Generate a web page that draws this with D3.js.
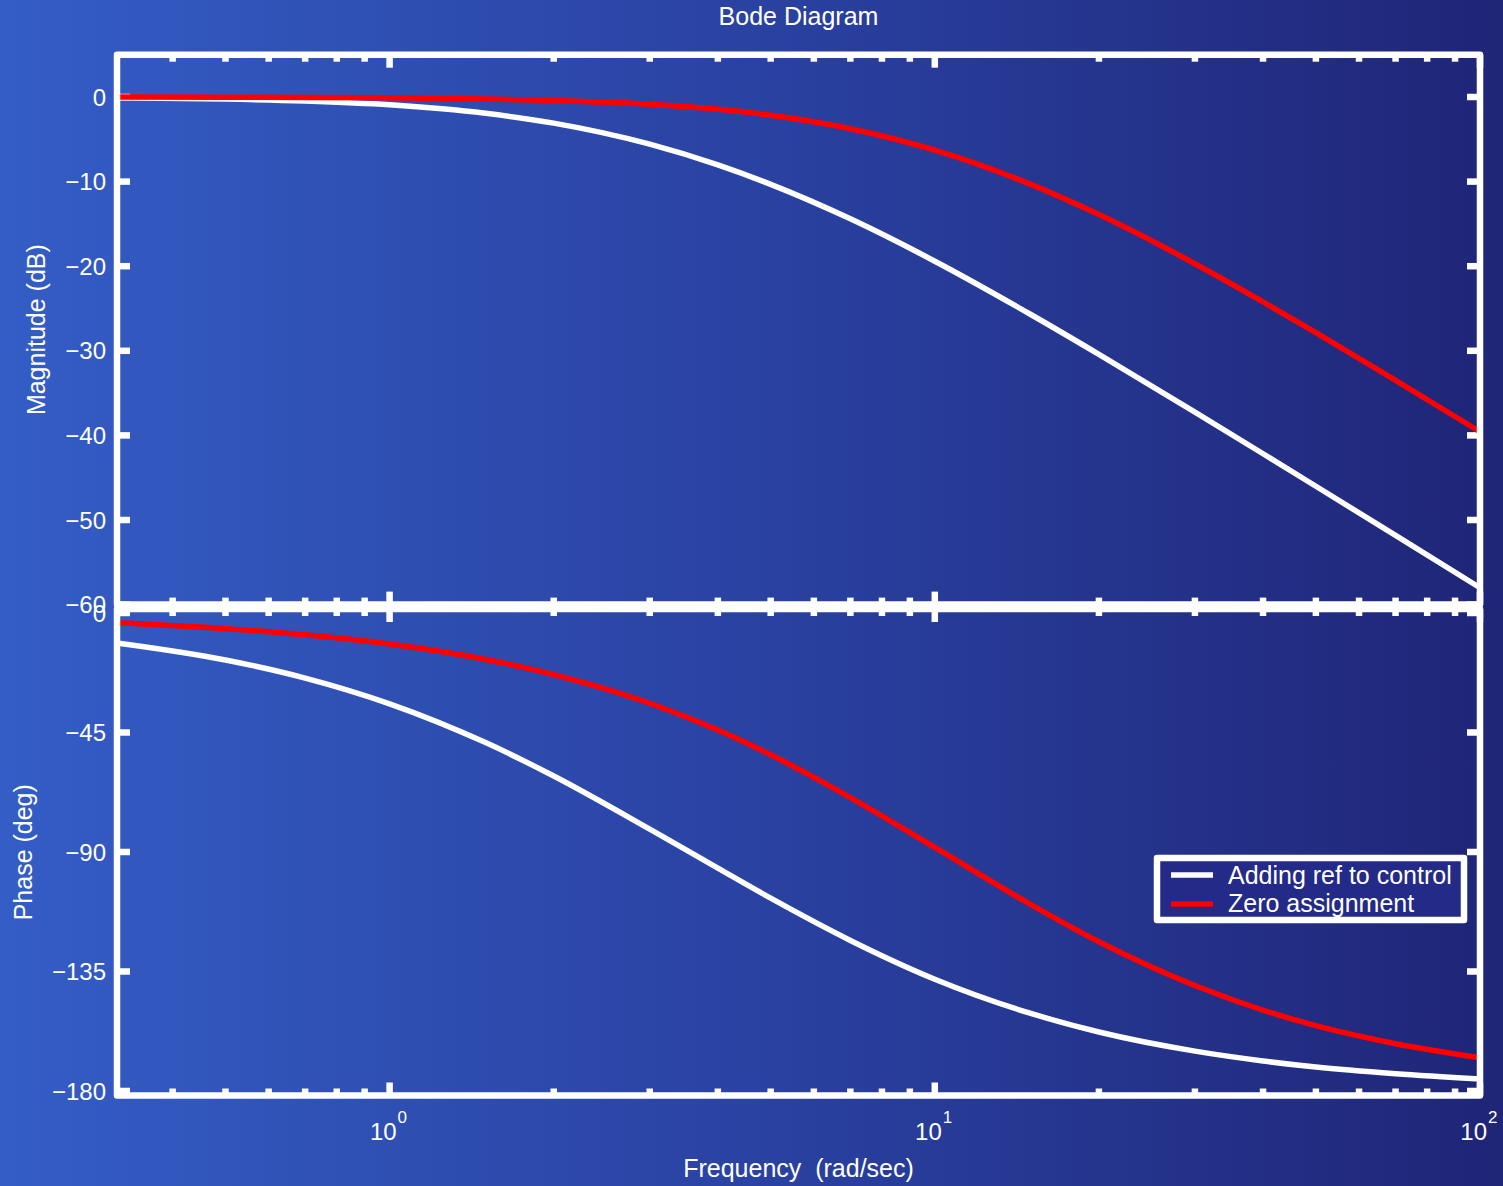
<!DOCTYPE html>
<html>
<head>
<meta charset="utf-8">
<script src="https://cdn.jsdelivr.net/npm/d3@7"></script>
<style>
  html, body { margin: 0; padding: 0; background: #2a40a0; }
  svg { display: block; font-family: "Liberation Sans", Arial, Helvetica, sans-serif; }
  text { fill: #ffffff; white-space: pre; }
</style>
</head>
<body>
<svg id="chart" width="1503" height="1186"></svg>
<script>
// ---------------- data ----------------
const freq = [0.3162, 0.5, 0.7, 1, 1.5, 2, 3, 4, 5, 7, 10, 15, 20, 30, 40, 50, 70, 100];
const magAddingRef = [-0.10, -0.25, -0.48, -0.93, -1.93, -3.09, -5.58, -8.03, -10.33, -14.40, -19.41, -25.71, -30.42, -37.25, -42.17, -46.01, -51.82, -58.01];
const phaseAddingRef = [-11.3, -17.7, -24.5, -34.2, -48.8, -61.4, -81.4, -96.1, -107.4, -123.3, -137.9, -150.8, -157.8, -165.0, -168.7, -171.0, -173.5, -175.5];
const magZeroAssign = [-0.01, -0.03, -0.05, -0.10, -0.23, -0.40, -0.86, -1.46, -2.16, -3.75, -6.28, -10.33, -13.90, -19.71, -24.22, -27.85, -33.49, -39.57];
const phaseZeroAssign = [-3.7, -5.9, -8.2, -11.7, -17.5, -23.2, -34.0, -44.1, -53.4, -69.5, -88.3, -109.8, -123.8, -140.3, -149.6, -155.4, -162.2, -167.5];

const seriesNames = ["Adding ref to control", "Zero assignment"];
const seriesColors = ["#ffffff", "#ff0000"];

const magTicks = [0, -10, -20, -30, -40, -50, -60];
const phaseTicks = [0, -45, -90, -135, -180];
const xMajorTicks = [1, 10, 100];
const xMajorExponents = ["0", "1", "2"];
const xMinorTicks = [0.4, 0.5, 0.6, 0.7, 0.8, 0.9, 2, 3, 4, 5, 6, 7, 8, 9, 20, 30, 40, 50, 60, 70, 80, 90];

const titleText = "Bode Diagram";
const magLabel = "Magnitude (dB)";
const phaseLabel = "Phase (deg)";
const freqLabel = "Frequency  (rad/sec)";

// ---------------- layout ----------------
const W = 1503, H = 1186;
const L = 117, R = 1480;
const magTop = 54.7, magBot = 604.6;
const phTop = 609, phBot = 1095.5;
const frameW = 6.5, curveW = 5.5;
const majorLen = 13, minorLen = 7;

const svg = d3.select("#chart");

// background gradient
const defs = svg.append("defs");
const grad = defs.append("linearGradient").attr("id", "bg").attr("x1", "0%").attr("x2", "100%").attr("y1", "0%").attr("y2", "0%");
grad.append("stop").attr("offset", "0%").attr("stop-color", "#345dc6");
grad.append("stop").attr("offset", "50%").attr("stop-color", "#2a42a2");
grad.append("stop").attr("offset", "100%").attr("stop-color", "#1f2577");
svg.append("rect").attr("width", W).attr("height", H).attr("fill", "url(#bg)");

// scales
const x = d3.scaleLog().domain([0.31623, 100]).range([L, R]);
const yMag = d3.scaleLinear().domain([5, -60]).range([magTop, magBot]);
const yPh = d3.scaleLinear().domain([1.5, -181.7]).range([phTop, phBot]);

function panel(y, yTicks, top, bot) {
  const g = svg.append("g");
  // y ticks left & right
  yTicks.forEach(t => {
    g.append("line").attr("x1", L).attr("x2", L + majorLen).attr("y1", y(t)).attr("y2", y(t))
      .attr("stroke", "#fff").attr("stroke-width", frameW);
    g.append("line").attr("x1", R).attr("x2", R - majorLen).attr("y1", y(t)).attr("y2", y(t))
      .attr("stroke", "#fff").attr("stroke-width", frameW);
  });
  // x ticks top & bottom
  xMajorTicks.forEach(t => {
    g.append("line").attr("x1", x(t)).attr("x2", x(t)).attr("y1", top).attr("y2", top + majorLen)
      .attr("stroke", "#fff").attr("stroke-width", frameW);
    g.append("line").attr("x1", x(t)).attr("x2", x(t)).attr("y1", bot).attr("y2", bot - majorLen)
      .attr("stroke", "#fff").attr("stroke-width", frameW);
  });
  xMinorTicks.forEach(t => {
    g.append("line").attr("x1", x(t)).attr("x2", x(t)).attr("y1", top).attr("y2", top + minorLen)
      .attr("stroke", "#fff").attr("stroke-width", frameW);
    g.append("line").attr("x1", x(t)).attr("x2", x(t)).attr("y1", bot).attr("y2", bot - minorLen)
      .attr("stroke", "#fff").attr("stroke-width", frameW);
  });
  // tick labels
  yTicks.forEach(t => {
    g.append("text").attr("x", 106).attr("y", y(t)).attr("dy", "0.36em")
      .attr("text-anchor", "end").attr("font-size", 24)
      .text(t < 0 ? "\u2212" + Math.abs(t) : String(t));
  });
  return g;
}

panel(yMag, magTicks, magTop, magBot);
panel(yPh, phaseTicks, phTop, phBot);

// curves
const line = (yScale) => d3.line().x(d => x(d[0])).y(d => yScale(d[1])).curve(d3.curveMonotoneX);
const magSeries = [magAddingRef, magZeroAssign];
const phSeries = [phaseAddingRef, phaseZeroAssign];

magSeries.forEach((s, i) => {
  svg.append("path").datum(freq.map((f, k) => [f, s[k]]))
    .attr("d", line(yMag)).attr("fill", "none")
    .attr("stroke", seriesColors[i]).attr("stroke-width", curveW).attr("stroke-linejoin", "round");
});
phSeries.forEach((s, i) => {
  svg.append("path").datum(freq.map((f, k) => [f, s[k]]))
    .attr("d", line(yPh)).attr("fill", "none")
    .attr("stroke", seriesColors[i]).attr("stroke-width", curveW).attr("stroke-linejoin", "round");
});

// frames
[[magTop, magBot], [phTop, phBot]].forEach(([t, b]) => {
  svg.append("rect").attr("x", L).attr("y", t).attr("width", R - L).attr("height", b - t)
    .attr("fill", "none").attr("stroke", "#fff").attr("stroke-width", frameW).attr("stroke-linejoin", "round");
});

// x tick labels (10^n)
xMajorTicks.forEach((t, i) => {
  svg.append("text").attr("x", x(t) + 7).attr("y", 1140).attr("text-anchor", "end")
    .attr("font-size", 24).text("10");
  svg.append("text").attr("x", x(t) + 8).attr("y", 1123).attr("text-anchor", "start")
    .attr("font-size", 17).text(xMajorExponents[i]);
});

// titles
svg.append("text").attr("x", (L + R) / 2).attr("y", 25).attr("text-anchor", "middle")
  .attr("font-size", 25).text(titleText);
svg.append("text").attr("x", (L + R) / 2).attr("y", 1177).attr("text-anchor", "middle")
  .attr("font-size", 25).text(freqLabel);
svg.append("text").attr("transform", `translate(45,${(magTop + magBot) / 2}) rotate(-90)`)
  .attr("text-anchor", "middle").attr("font-size", 25).text(magLabel);
svg.append("text").attr("transform", `translate(32,${(phTop + phBot) / 2}) rotate(-90)`)
  .attr("text-anchor", "middle").attr("font-size", 25).text(phaseLabel);

// legend
const lg = svg.append("g");
lg.append("rect").attr("x", 1157).attr("y", 858).attr("width", 307).attr("height", 62)
  .attr("fill", "#232a88").attr("stroke", "#fff").attr("stroke-width", frameW).attr("stroke-linejoin", "round");
seriesNames.forEach((n, i) => {
  const yy = 875 + i * 29;
  lg.append("line").attr("x1", 1171).attr("x2", 1213).attr("y1", yy).attr("y2", yy)
    .attr("stroke", seriesColors[i]).attr("stroke-width", curveW);
  lg.append("text").attr("x", 1228).attr("y", 884 + i * 28).attr("font-size", 25).text(n);
});
</script>
</body>
</html>
